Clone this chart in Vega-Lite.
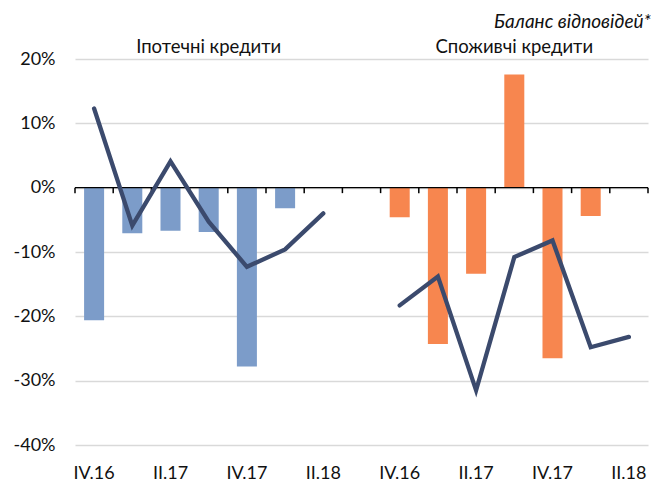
{
  "$schema": "https://vega.github.io/schema/vega-lite/v6.json",
  "width": 573,
  "height": 386,
  "autosize": {"type": "none"},
  "padding": {"left": 75, "top": 59, "right": 3, "bottom": 37},
  "background": "white",
  "config": {
    "view": {"stroke": null},
    "font": "Lato"
  },
  "title": {
    "text": "Баланс відповідей*",
    "anchor": "end",
    "frame": "group",
    "orient": "top",
    "font": "Lato",
    "fontSize": 19,
    "fontStyle": "italic",
    "fontWeight": "normal",
    "color": "#111111",
    "baseline": "alphabetic",
    "offset": -9,
    "dx": 3
  },
  "datasets": {
    "main": [
      {"key": "M|IV.16", "group": "Іпотечні кредити", "bar": -0.206, "line": 0.123},
      {"key": "M|I.17", "group": "Іпотечні кредити", "bar": -0.071, "line": -0.059},
      {"key": "M|II.17", "group": "Іпотечні кредити", "bar": -0.067, "line": 0.041},
      {"key": "M|III.17", "group": "Іпотечні кредити", "bar": -0.069, "line": -0.053},
      {"key": "M|IV.17", "group": "Іпотечні кредити", "bar": -0.278, "line": -0.123},
      {"key": "M|I.18", "group": "Іпотечні кредити", "bar": -0.032, "line": -0.096},
      {"key": "M|II.18", "group": "Іпотечні кредити", "bar": null, "line": -0.040},
      {"key": "C|IV.16", "group": "Споживчі кредити", "bar": -0.046, "line": -0.183},
      {"key": "C|I.17", "group": "Споживчі кредити", "bar": -0.243, "line": -0.138},
      {"key": "C|II.17", "group": "Споживчі кредити", "bar": -0.134, "line": -0.315},
      {"key": "C|III.17", "group": "Споживчі кредити", "bar": 0.176, "line": -0.108},
      {"key": "C|IV.17", "group": "Споживчі кредити", "bar": -0.265, "line": -0.082},
      {"key": "C|I.18", "group": "Споживчі кредити", "bar": -0.044, "line": -0.248},
      {"key": "C|II.18", "group": "Споживчі кредити", "bar": null, "line": -0.232}
    ],
    "titles": [
      {"key": "M|III.17", "label": "Іпотечні кредити", "top": 0.2},
      {"key": "C|III.17", "label": "Споживчі кредити", "top": 0.2}
    ],
    "xlabels": [
      {"key": "M|IV.16", "label": "IV.16", "bottom": -0.4},
      {"key": "M|II.17", "label": "II.17", "bottom": -0.4},
      {"key": "M|IV.17", "label": "IV.17", "bottom": -0.4},
      {"key": "M|II.18", "label": "II.18", "bottom": -0.4},
      {"key": "C|IV.16", "label": "IV.16", "bottom": -0.4},
      {"key": "C|II.17", "label": "II.17", "bottom": -0.4},
      {"key": "C|IV.17", "label": "IV.17", "bottom": -0.4},
      {"key": "C|II.18", "label": "II.18", "bottom": -0.4}
    ],
    "ticks": [
      {"key": "M|IV.16", "y0": 0, "y1": -0.0085}, {"key": "M|I.17", "y0": 0, "y1": -0.0085}, {"key": "M|II.17", "y0": 0, "y1": -0.0085}, {"key": "M|III.17", "y0": 0, "y1": -0.0085}, {"key": "M|IV.17", "y0": 0, "y1": -0.0085}, {"key": "M|I.18", "y0": 0, "y1": -0.0085}, {"key": "M|II.18", "y0": 0, "y1": -0.0085},
      {"key": "gap", "y0": 0, "y1": -0.0085},
      {"key": "C|IV.16", "y0": 0, "y1": -0.0085}, {"key": "C|I.17", "y0": 0, "y1": -0.0085}, {"key": "C|II.17", "y0": 0, "y1": -0.0085}, {"key": "C|III.17", "y0": 0, "y1": -0.0085}, {"key": "C|IV.17", "y0": 0, "y1": -0.0085}, {"key": "C|I.18", "y0": 0, "y1": -0.0085}, {"key": "C|II.18", "y0": 0, "y1": -0.0085}
    ],
    "lasttick": [{"key": "C|II.18", "y0": 0, "y1": -0.0085}],
    "zero": [{"y": 0}]
  },
  "encoding": {
    "x": {
      "field": "key",
      "type": "nominal",
      "sort": null,
      "scale": {
        "type": "band",
        "domain": ["M|IV.16", "M|I.17", "M|II.17", "M|III.17", "M|IV.17", "M|I.18", "M|II.18", "gap", "C|IV.16", "C|I.17", "C|II.17", "C|III.17", "C|IV.17", "C|I.18", "C|II.18"],
        "paddingInner": 0.476,
        "paddingOuter": 0.238
      },
      "axis": null
    }
  },
  "layer": [
    {
      "data": {"name": "main"},
      "transform": [{"filter": "datum.bar != null"}],
      "mark": {"type": "bar"},
      "encoding": {
        "y": {
          "field": "bar",
          "type": "quantitative",
          "scale": {"domain": [-0.4, 0.2], "nice": false, "zero": false},
          "axis": {
            "title": null,
            "values": [-0.4, -0.3, -0.2, -0.1, 0, 0.1, 0.2],
            "domain": false,
            "ticks": false,
            "grid": true,
            "gridColor": "#d9d9d9",
            "gridWidth": 1.5,
            "labelFont": "Lato",
            "labelFontSize": 18,
            "labelColor": "#111111",
            "labelPadding": 20,
            "labelExpr": "round(datum.value * 100) + '%'",
            "zindex": 0
          }
        },
        "color": {
          "field": "group",
          "type": "nominal",
          "scale": {"domain": ["Іпотечні кредити", "Споживчі кредити"], "range": ["#7c9cc9", "#f7864f"]},
          "legend": null
        }
      }
    },
    {
      "data": {"name": "zero"},
      "mark": {"type": "rule", "color": "#000000", "strokeWidth": 1.3},
      "encoding": {
        "x": null,
        "y": {"field": "y", "type": "quantitative"}
      }
    },
    {
      "data": {"name": "ticks"},
      "mark": {"type": "rule", "color": "#000000", "strokeWidth": 1.5},
      "encoding": {
        "x": {"field": "key", "type": "nominal", "sort": null, "bandPosition": -0.4542},
        "y": {"field": "y0", "type": "quantitative"},
        "y2": {"field": "y1"}
      }
    },
    {
      "data": {"name": "lasttick"},
      "mark": {"type": "rule", "color": "#000000", "strokeWidth": 1.5},
      "encoding": {
        "x": {"field": "key", "type": "nominal", "sort": null, "bandPosition": 1.4542},
        "y": {"field": "y0", "type": "quantitative"},
        "y2": {"field": "y1"}
      }
    },
    {
      "data": {"name": "main"},
      "mark": {"type": "line", "color": "#3b4a6d", "strokeWidth": 4.3, "strokeCap": "round", "strokeJoin": "miter"},
      "encoding": {
        "y": {"field": "line", "type": "quantitative"},
        "detail": {"field": "group"}
      }
    },
    {
      "data": {"name": "titles"},
      "mark": {"type": "text", "font": "Lato", "fontSize": 18.5, "color": "#111111", "baseline": "alphabetic", "align": "center", "dy": -6},
      "encoding": {
        "y": {"field": "top", "type": "quantitative"},
        "text": {"field": "label"}
      }
    },
    {
      "data": {"name": "xlabels"},
      "mark": {"type": "text", "font": "Lato", "fontSize": 18, "color": "#111111", "baseline": "alphabetic", "align": "center", "dy": 34},
      "encoding": {
        "y": {"field": "bottom", "type": "quantitative"},
        "text": {"field": "label"}
      }
    }
  ]
}
